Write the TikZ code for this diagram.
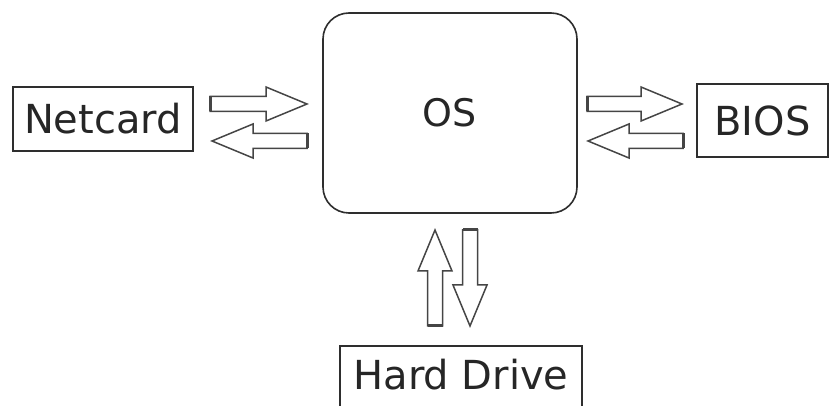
\documentclass[tikz,border=0pt]{standalone}
\usepackage{fontspec}
\setmainfont{DejaVu Sans}
\usepackage{xcolor}
\usepackage{tikz}
\usetikzlibrary{calc,positioning}

\definecolor{boxgray}{HTML}{2E2E2E}
\definecolor{arrowgray}{HTML}{454545}

% hollow block arrow from tail #1 to tip #2
\newcommand{\hollowarrow}[2]{%
	\draw[arrowline] ($(#1)!7.5pt!90:(#2)$)
	-- ($($(#2)!41pt!(#1)$)!7.5pt!-90:(#1)$)
	-- ($($(#2)!41pt!(#1)$)!17pt!-90:(#1)$)
	-- (#2)
	-- ($($(#2)!41pt!(#1)$)!17pt!90:(#1)$)
	-- ($($(#2)!41pt!(#1)$)!7.5pt!90:(#1)$)
	-- ($(#1)!7.5pt!-90:(#2)$) -- cycle;
	\draw[tailline] ($(#1)!7.5pt!90:(#2)$) -- ($(#1)!7.5pt!-90:(#2)$);
}

\begin{document}
\begin{tikzpicture}
[x=1pt,y=-1pt,
	box/.style={draw=boxgray,line width=2pt,inner sep=0pt,text=black!85,
		font=\fontsize{40}{48}\selectfont},
	osbox/.style={draw=boxgray,line width=1.6pt,rounded corners=26pt,
		minimum width=254pt,minimum height=200pt,text=black!85,
		font=\fontsize{38}{46}\selectfont},
	arrowline/.style={draw=arrowgray,line width=1.5pt,line join=miter},
	tailline/.style={draw=arrowgray,line width=3pt}]
\useasboundingbox (0,0) rectangle (831,406);
\node[osbox] (os) at (450,113) {OS};
\node[box,minimum width=180pt,minimum height=64pt] (net) at (103,119) {Netcard};
\node[box,minimum width=131pt,minimum height=73pt] (bios) at (762.5,120.5) {BIOS};
\node[box,minimum width=242pt,minimum height=75pt,text depth=19pt,anchor=north] (hd) at (461,345) {Hard Drive};
% arrow ends
\coordinate (netout) at (210,104);
\coordinate (osin) at (307,104);
\coordinate (osout) at (307,141);
\coordinate (netin) at (212,141);
\coordinate (osright) at (587,104);
\coordinate (biosin) at (682,104);
\coordinate (biosout) at (683,141);
\coordinate (osback) at (588,141);
\coordinate (hdout) at (435,326);
\coordinate (osdown) at (435,230);
\coordinate (osup) at (470,230);
\coordinate (hdin) at (470,326);
\foreach \tailEnd/\tipEnd in {netout/osin,osout/netin,osright/biosin,biosout/osback,hdout/osdown,osup/hdin}
{
	\hollowarrow{\tailEnd}{\tipEnd}
}
\end{tikzpicture}
\end{document}
